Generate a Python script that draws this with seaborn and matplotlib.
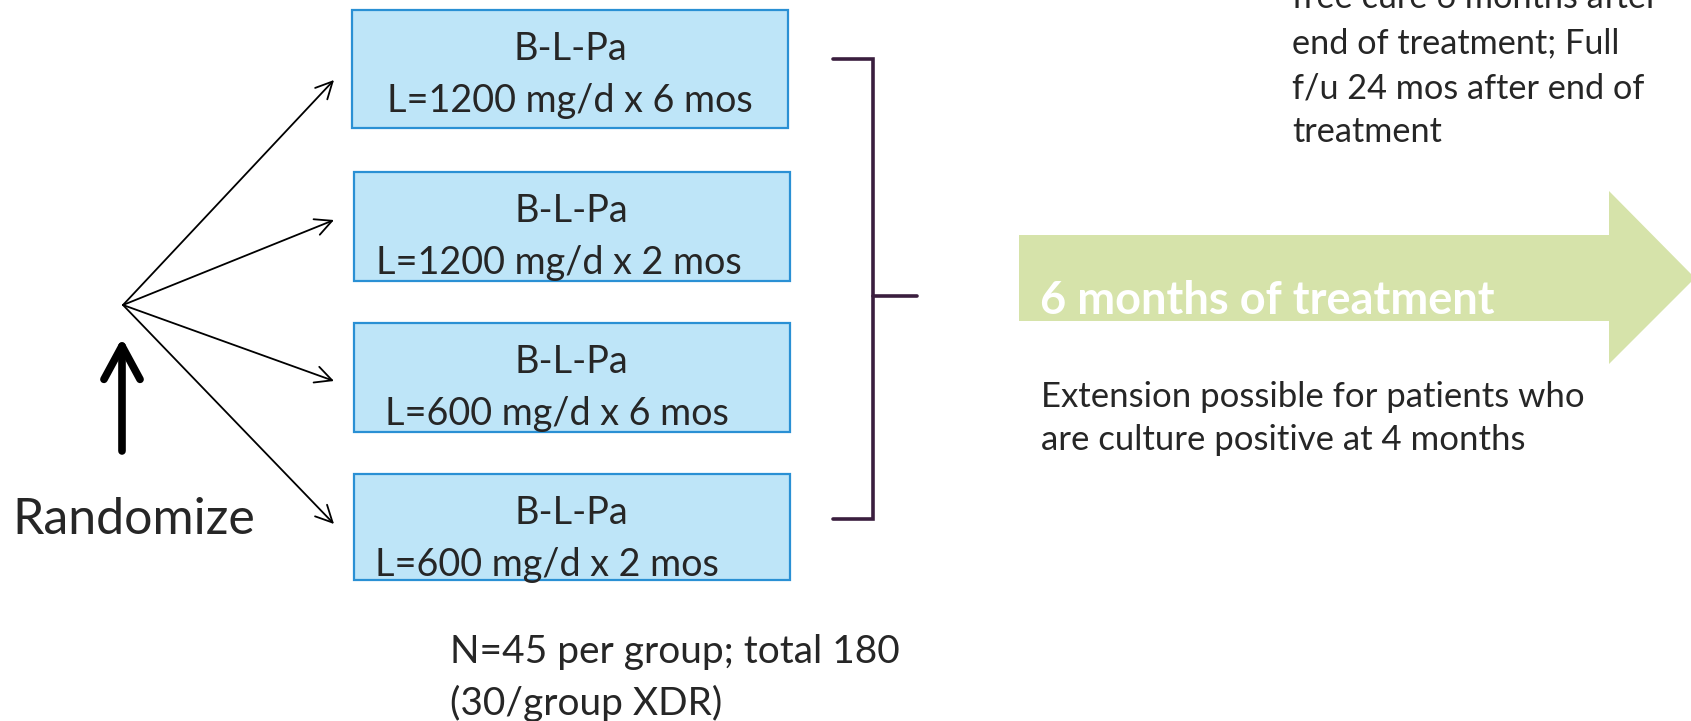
import matplotlib
matplotlib.use("Agg")
import matplotlib.pyplot as plt
import seaborn as sns
from matplotlib.patches import Rectangle, Polygon

# diagram content
arm_drug = ["B-L-Pa", "B-L-Pa", "B-L-Pa", "B-L-Pa"]
arm_dose = ["L=1200 mg/d x 6 mos", "L=1200 mg/d x 2 mos",
            "L=600 mg/d x 6 mos", "L=600 mg/d x 2 mos"]
sample_text = ["N=45 per group; total 180", "(30/group XDR)"]
treat_label = "6 months of treatment"
extension_text = ["Extension possible for patients who", "are culture positive at 4 months"]
endpoint_text = ["free cure 6 months after", "end of treatment; Full",
                 "f/u 24 mos after end of", "treatment"]

sns.set_theme(style="white")
plt.rcParams['font.family'] = ['Lato', 'DejaVu Sans']

W, H = 1691, 721
fig = plt.figure(figsize=(W / 100, H / 100), dpi=100)
ax = fig.add_axes([0, 0, 1, 1])
ax.set_xlim(0, W)
ax.set_ylim(H, 0)
ax.axis("off")

# boxes (layout in pixels, y down)
box_y = [(10, 128), (172, 281), (323, 432), (474, 580)]
box_x = [(352, 788), (354, 790), (354, 790), (354, 790)]
drug_x = [570, 571, 571, 571]
dose_x = [570, 559, 557, 547]
for i in range(4):
    (x0, x1), (y0, y1) = box_x[i], box_y[i]
    ax.add_patch(Rectangle((x0, y0), x1 - x0, y1 - y0, facecolor="#bee5f8",
                           edgecolor="#2a90d4", lw=1.6))
    ax.text(drug_x[i], y0 + 50, arm_drug[i], ha="center", va="baseline", fontsize=27.2)
    ax.text(dose_x[i], y0 + 102, arm_dose[i], ha="center", va="baseline", fontsize=27.2)

# fan of arrows from randomisation point
origin = (123, 305)
tips = [(334, 80), (334, 220), (334, 381), (334, 524)]
for t in tips:
    ax.annotate("", xy=t, xytext=origin,
                arrowprops=dict(arrowstyle="->,head_length=0.6,head_width=0.3",
                                lw=1.3, color="black", shrinkA=0, shrinkB=0,
                                mutation_scale=20))

# thick up arrow
ax.annotate("", xy=(122, 338), xytext=(122, 451),
            arrowprops=dict(arrowstyle="->,head_length=1.2,head_width=0.65",
                            lw=5.5, color="black", shrinkA=0, shrinkB=0,
                            mutation_scale=20))
ax.text(12, 534, "Randomize", ha="left", va="baseline", fontsize=36)

# bracket
bc = "#3a1e3e"
ax.plot([833, 873, 873, 833], [59, 59, 519, 519], color=bc, lw=2.6,
        solid_joinstyle="miter")
ax.plot([873, 917], [296, 296], color=bc, lw=2.6)

# sample size text
ax.text(450, 663, sample_text[0], ha="left", va="baseline", fontsize=28)
ax.text(450, 715, sample_text[1], ha="left", va="baseline", fontsize=28)

# green block arrow
arrow_pts = [(1019, 235), (1609, 235), (1609, 191), (1695, 278),
             (1609, 364), (1609, 321), (1019, 321)]
ax.add_patch(Polygon(arrow_pts, closed=True, facecolor="#d6e3aa", edgecolor="none"))
ax.text(1040, 314, treat_label, ha="left", va="baseline", fontsize=32.5,
        fontweight="bold", color="white")

for k, line in enumerate(extension_text):
    ax.text(1041, 407 + 43 * k, line, ha="left", va="baseline", fontsize=25)

endpoint_y = [8.5, 53, 98, 142]
for yy, line in zip(endpoint_y, endpoint_text):
    ax.text(1292, yy, line, ha="left", va="baseline", fontsize=24.7)

fig.savefig("out.png", dpi=100)
